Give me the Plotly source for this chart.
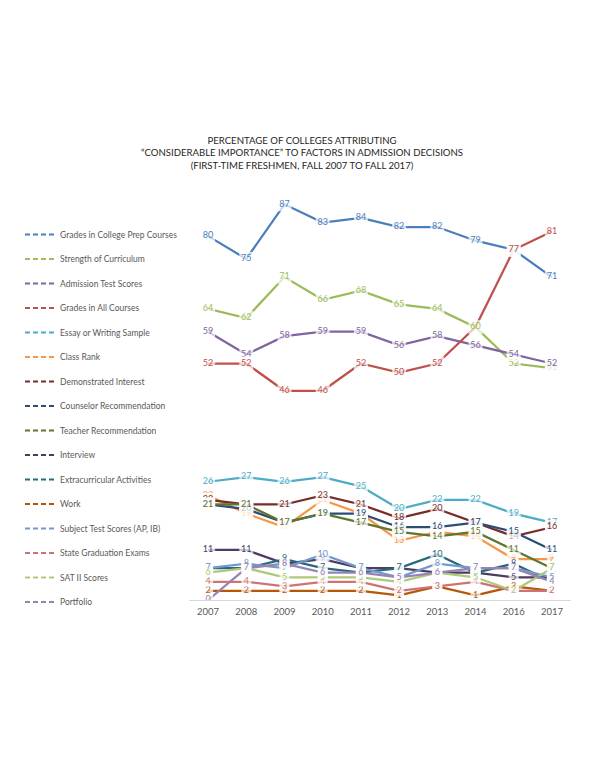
import plotly.graph_objects as go

years = ["2007", "2008", "2009", "2010", "2011", "2012", "2013", "2014", "2016", "2017"]

series_names = [
    "Grades in College Prep Courses",
    "Strength of Curriculum",
    "Admission Test Scores",
    "Grades in All Courses",
    "Essay or Writing Sample",
    "Class Rank",
    "Demonstrated Interest",
    "Counselor Recommendation",
    "Teacher Recommendation",
    "Interview",
    "Extracurricular Activities",
    "Work",
    "Subject Test Scores (AP, IB)",
    "State Graduation Exams",
    "SAT II Scores",
    "Portfolio",
]

prep_courses = [80, 75, 87, 83, 84, 82, 82, 79, 77, 71]
strength_curriculum = [64, 62, 71, 66, 68, 65, 64, 60, 52, 51]
admission_tests = [59, 54, 58, 59, 59, 56, 58, 56, 54, 52]
all_courses = [52, 52, 46, 46, 52, 50, 52, 60, 77, 81]
essay = [26, 27, 26, 27, 25, 20, 22, 22, 19, 17]
class_rank = [23, 19, 16, 22, 19, 13, 15, 14, 9, 9]
demonstrated_interest = [22, 21, 21, 23, 21, 18, 20, 17, 14, 16]
counselor_rec = [21, 20, 17, 19, 19, 16, 16, 17, 15, 11]
teacher_rec = [21, 21, 17, 19, 17, 15, 14, 15, 11, 7]
interview = [11, 11, 8, 9, 7, 7, 6, 6, 5, 5]
extracurricular = [7, 7, 9, 7, 6, 7, 10, 6, 8, 4]
work = [2, 2, 2, 2, 2, 1, 3, 1, 3, 2]
subject_tests = [7, 8, 7, 10, 7, 5, 8, 7, 7, 5]
state_exams = [4, 4, 3, 4, 4, 2, 3, 4, 2, 2]
sat2 = [6, 7, 5, 5, 5, 4, 6, 5, 2, 7]
portfolio = [0, 7, 8, 6, 6, 5, 6, 7, 7, 4]

series_values = [
    prep_courses, strength_curriculum, admission_tests, all_courses, essay,
    class_rank, demonstrated_interest, counselor_rec, teacher_rec, interview,
    extracurricular, work, subject_tests, state_exams, sat2, portfolio,
]

colors = [
    "#4A7EBB", "#9BBB59", "#8064A2", "#C0504D", "#4BACC6", "#F79646",
    "#772C2A", "#2C4D75", "#5F7530", "#4D3B62", "#276A7C", "#B65708",
    "#729ACA", "#CD7371", "#AFC97A", "#9983B5",
]

# labels hidden in the original (covered by another label)
hidden_labels = {("Grades in All Courses", "2014")}

FONT = "Lato, 'Open Sans', sans-serif"

fig = go.Figure()

# lines
for name, vals, col in zip(series_names, series_values, colors):
    fig.add_trace(go.Scatter(
        x=years, y=vals, mode="lines", name=name,
        line=dict(color=col, width=2.25), showlegend=False, hoverinfo="skip",
    ))

# data labels with white boxes (drawn above all lines)
for name, vals, col in zip(series_names, series_values, colors):
    texts, sizes = [], []
    for yr, v in zip(years, vals):
        if (name, yr) in hidden_labels:
            texts.append("")
            sizes.append(0)
        else:
            texts.append(str(v))
            sizes.append(14 if len(str(v)) > 1 else 10)
    fig.add_trace(go.Scatter(
        x=years, y=vals, mode="markers+text", text=texts,
        textposition="middle center",
        textfont=dict(family=FONT, size=9, color=col),
        marker=dict(symbol="square", color="white", size=sizes, line=dict(width=0)),
        showlegend=False, hoverinfo="skip",
    ))

# legend entries (dashed samples like the original)
for name, col in zip(series_names, colors):
    fig.add_trace(go.Scatter(
        x=[None], y=[None], mode="lines", name=name, legendgroup=name,
        line=dict(color=col, width=2, dash="5px,3px"), showlegend=True,
    ))

fig.update_layout(
    width=592, height=768,
    margin=dict(l=181, r=29, t=134, b=176),
    paper_bgcolor="white", plot_bgcolor="white",
    font=dict(family=FONT, size=9, color="#595959"),
    title=dict(
        text="PERCENTAGE OF COLLEGES ATTRIBUTING<br>\u201cCONSIDERABLE IMPORTANCE\u201d TO FACTORS IN ADMISSION DECISIONS<br>(FIRST-TIME FRESHMEN, FALL 2007 TO FALL 2017)",
        xref="container", yref="container", x=294 / 592, xanchor="center",
        y=1 - 136 / 768, yanchor="top",
        font=dict(family=FONT, size=9.6, color="#262626"),
    ),
    xaxis=dict(
        type="category", range=[-0.5, 9.5], showline=True, linecolor="#D9D9D9",
        linewidth=1, showgrid=False, ticks="", tickfont=dict(size=9.5, color="#595959"),
        zeroline=False, fixedrange=True, ticklabelstandoff=3,
    ),
    yaxis=dict(range=[0, 100.7], visible=False, fixedrange=True),
    legend=dict(
        x=(12 - 181) / 382, xanchor="left", y=1 - 78 / 458, yanchor="top",
        xref="paper", yref="paper", font=dict(size=8.5, color="#595959"),
        tracegroupgap=5.5, itemwidth=30, bgcolor="rgba(0,0,0,0)",
    ),
    showlegend=True,
)

fig.write_html("out.html")
